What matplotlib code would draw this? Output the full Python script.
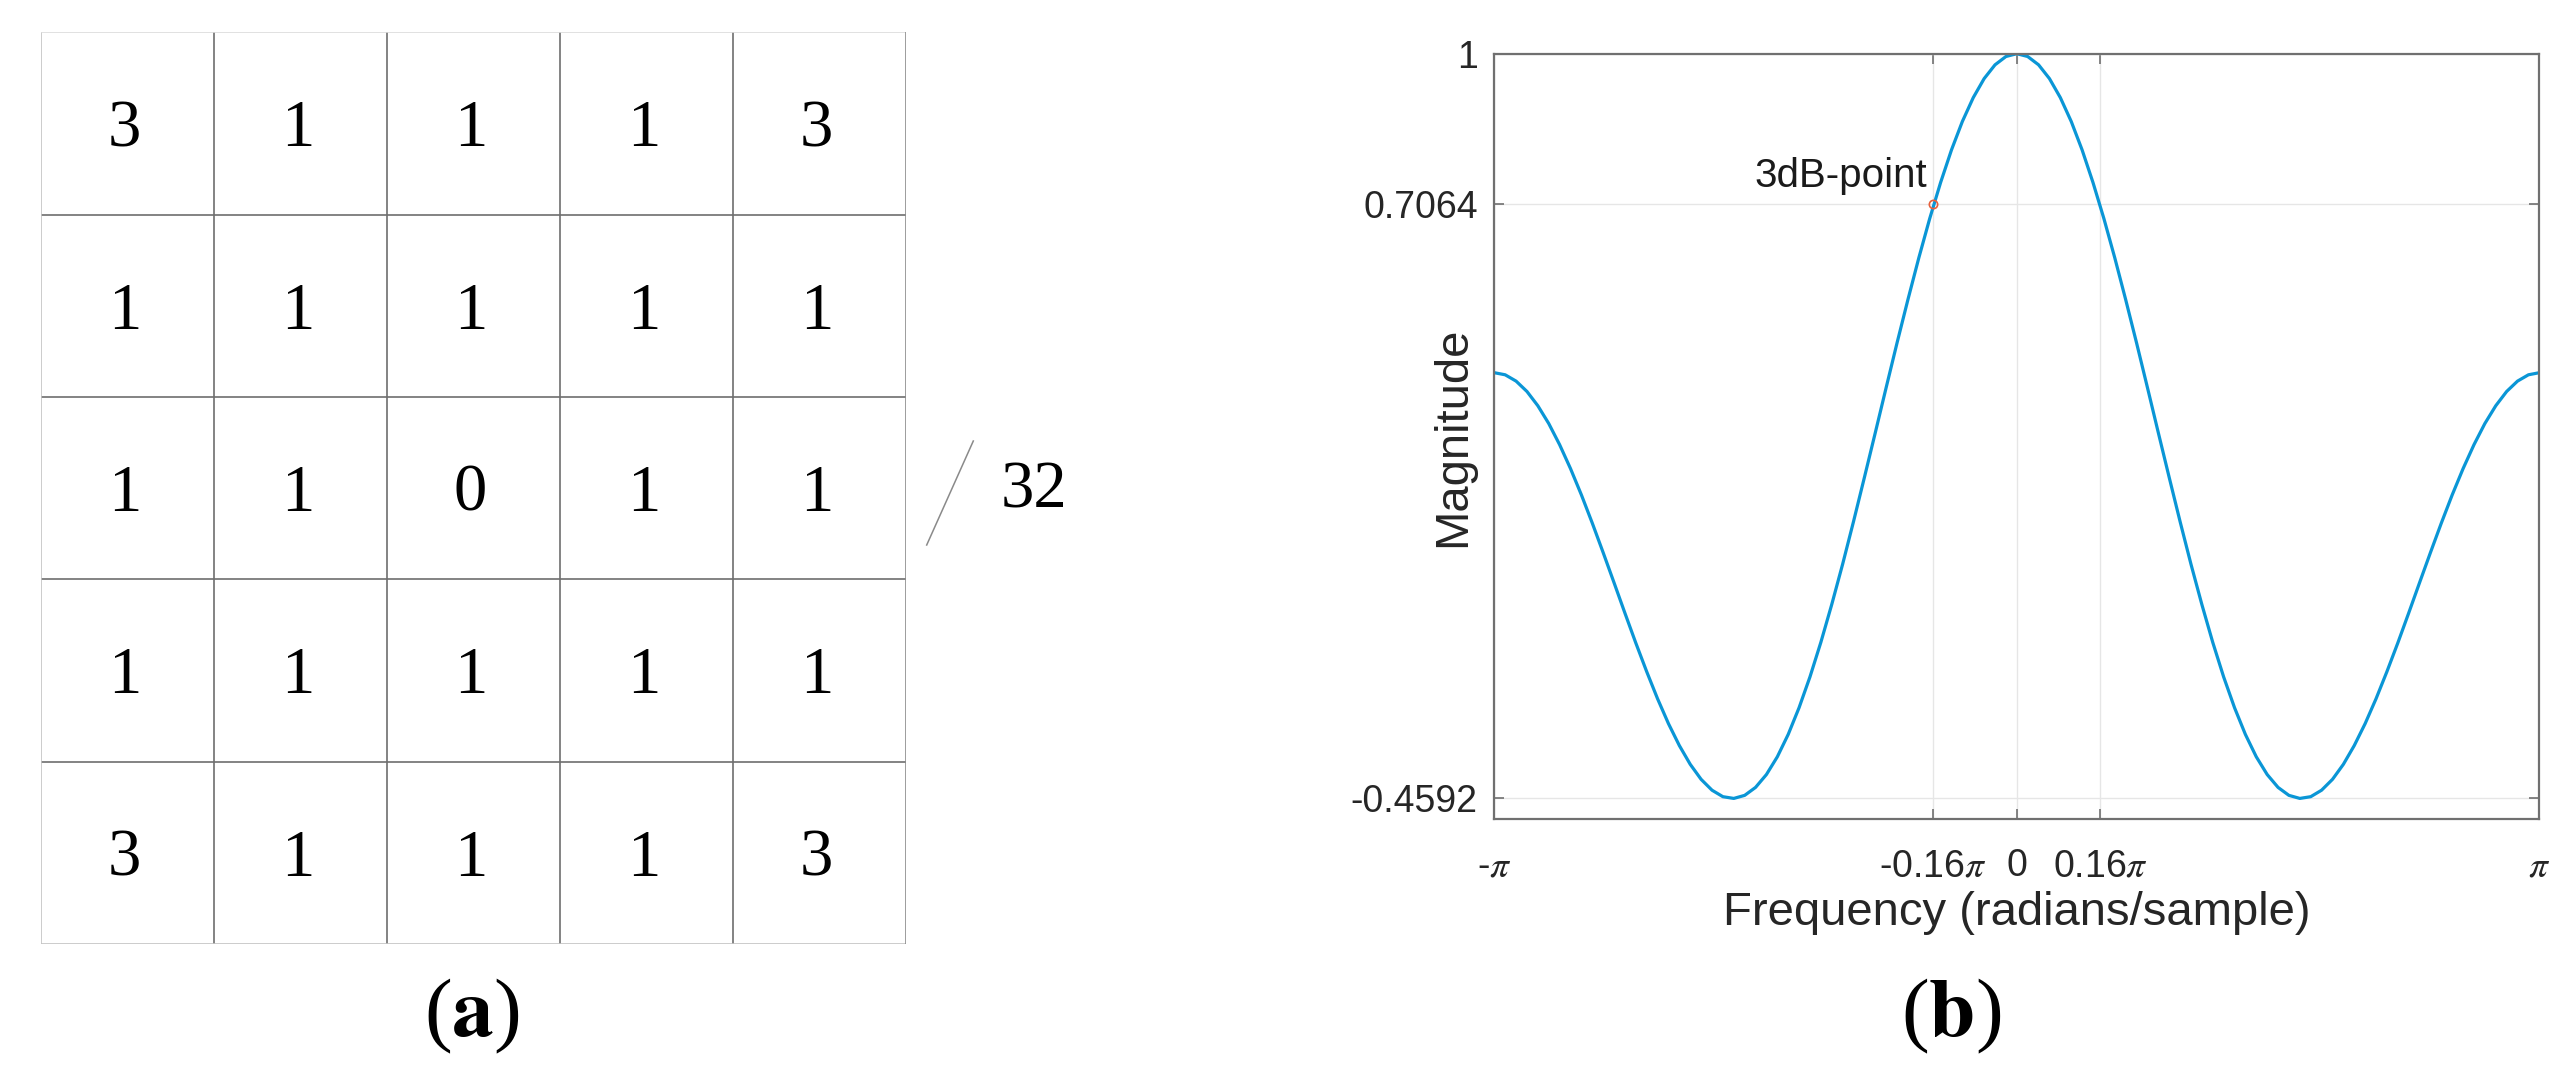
import numpy as np
import matplotlib
matplotlib.use('Agg')
import matplotlib.pyplot as plt
from matplotlib.lines import Line2D

plt.rcParams['font.family'] = ['Liberation Sans', 'DejaVu Sans']
plt.rcParams['mathtext.fontset'] = 'stix'

# (a) mascara 5x5, dividida por 32
kernel = [
    [3, 1, 1, 1, 3],
    [1, 1, 1, 1, 1],
    [1, 1, 0, 1, 1],
    [1, 1, 1, 1, 1],
    [3, 1, 1, 1, 3],
]
divisor = 32

# (b) resposta em frequencia (frequencia em unidades de pi)
freq_pi = [-1.0, -0.9792, -0.9583, -0.9375, -0.9167, -0.8958, -0.875, -0.8542,
           -0.8333, -0.8125, -0.7917, -0.7708, -0.75, -0.7292, -0.7083, -0.6875,
           -0.6667, -0.6458, -0.625, -0.6042, -0.5833, -0.5625, -0.5417, -0.5208,
           -0.5, -0.4792, -0.4583, -0.4375, -0.4167, -0.3958, -0.375, -0.3542,
           -0.3333, -0.3125, -0.2917, -0.2708, -0.25, -0.2292, -0.2083, -0.1875,
           -0.1667, -0.1458, -0.125, -0.1042, -0.0833, -0.0625, -0.0417, -0.0208,
           0.0,
           0.0208, 0.0417, 0.0625, 0.0833, 0.1042, 0.125, 0.1458, 0.1667,
           0.1875, 0.2083, 0.2292, 0.25, 0.2708, 0.2917, 0.3125, 0.3333,
           0.3542, 0.375, 0.3958, 0.4167, 0.4375, 0.4583, 0.4792, 0.5,
           0.5208, 0.5417, 0.5625, 0.5833, 0.6042, 0.625, 0.6458, 0.6667,
           0.6875, 0.7083, 0.7292, 0.75, 0.7708, 0.7917, 0.8125, 0.8333,
           0.8542, 0.875, 0.8958, 0.9167, 0.9375, 0.9583, 0.9792, 1.0]
magnitude = [0.375, 0.3709, 0.3585, 0.3382, 0.3103, 0.2754, 0.2340, 0.1872,
             0.1356, 0.0804, 0.0227, -0.0365, -0.0960, -0.1545, -0.2108, -0.2639,
             -0.3125, -0.3556, -0.3923, -0.4217, -0.4430, -0.4557, -0.4591, -0.4531,
             -0.4375, -0.4123, -0.3775, -0.3337, -0.2813, -0.2208, -0.1532, -0.0792,
             0.0, 0.0834, 0.1697, 0.2576, 0.3460, 0.4334, 0.5185, 0.6001,
             0.6769, 0.7477, 0.8115, 0.8672, 0.9140, 0.9512, 0.9782, 0.9945,
             1.0,
             0.9945, 0.9782, 0.9512, 0.9140, 0.8672, 0.8115, 0.7477, 0.6769,
             0.6001, 0.5185, 0.4334, 0.3460, 0.2576, 0.1697, 0.0834, 0.0,
             -0.0792, -0.1532, -0.2208, -0.2813, -0.3337, -0.3775, -0.4123, -0.4375,
             -0.4531, -0.4591, -0.4557, -0.4430, -0.4217, -0.3923, -0.3556, -0.3125,
             -0.2639, -0.2108, -0.1545, -0.0960, -0.0365, 0.0227, 0.0804, 0.1356,
             0.1872, 0.2340, 0.2754, 0.3103, 0.3382, 0.3585, 0.3709, 0.375]

xtick_pi = [-1.0, -0.16, 0.0, 0.16, 1.0]
xtick_labels = [r'-$\pi$', r'-0.16$\pi$', '0', r'0.16$\pi$', r'$\pi$']
ytick_vals = [-0.4592, 0.7064, 1.0]
ytick_labels = ['-0.4592', '0.7064', '1']
ponto_3db = (-0.16, 0.7064)

W, H = 2570, 1086
fig = plt.figure(figsize=(W / 100, H / 100), dpi=100)


def fx(px):
    return px / W


def fy(py):
    return 1 - py / H


# ---------- painel (a) ----------
ax_a = fig.add_axes([fx(40.7), fy(943.8), fx(865), 911.5 / H])
ax_a.set_xlim(0, 5)
ax_a.set_ylim(5, 0)
ax_a.axis('off')

for k in range(1, 5):
    ax_a.plot([k, k], [0, 5], color='#6e6e6e', lw=1.2, solid_capstyle='butt')
    ax_a.plot([0, 5], [k, k], color='#6e6e6e', lw=1.2, solid_capstyle='butt')
# bordas externas mais claras
ax_a.plot([0, 0], [0, 5], color='#c4c4c4', lw=1.2)
ax_a.plot([0, 5], [0, 0], color='#dcdcdc', lw=1.2)
ax_a.plot([0, 5], [5, 5], color='#c4c4c4', lw=1.2)
ax_a.plot([5, 5], [0, 5], color='#8c8c8c', lw=1.2)

for i, linha in enumerate(kernel):
    for j, v in enumerate(linha):
        ax_a.text(j + 0.485, i + 0.535, str(v), ha='center', va='center',
                  fontsize=48, family='Liberation Serif', color='black')

fig.add_artist(Line2D([fx(926.7), fx(973.3)], [fy(545), fy(441)],
                      color='#8a8a8a', lw=1.1))
fig.text(fx(1034), fy(491), str(divisor), ha='center', va='center',
         fontsize=48, family='Liberation Serif', color='black')

# ---------- painel (b) ----------
ax_b = fig.add_axes([fx(1494.3), fy(819.3), fx(1045), 765.6 / H])
x = np.array(freq_pi) * np.pi
ax_b.plot(x, magnitude, color='#0a96d6', lw=2.3)
ax_b.plot(ponto_3db[0] * np.pi, ponto_3db[1], 'o', ms=6, mfc='none',
          mec='#e8603c', mew=1.2)
ax_b.text(ponto_3db[0] * np.pi - 0.035, ponto_3db[1] + 0.017, '3dB-point',
          ha='right', va='bottom', fontsize=29, color='#1a1a1a')

ax_b.set_xlim(-np.pi, np.pi)
ax_b.set_ylim(-0.5, 1.0)
ax_b.set_xticks(np.array(xtick_pi) * np.pi)
ax_b.set_xticklabels(xtick_labels)
ax_b.set_yticks(ytick_vals)
ax_b.set_yticklabels(ytick_labels)
ax_b.tick_params(axis='both', direction='in', length=7, width=1.2,
                 color='#707070', labelsize=27, labelcolor='#262626',
                 top=True, right=True)
ax_b.tick_params(axis='x', pad=21)
ax_b.tick_params(axis='y', pad=12)
ax_b.grid(True, color='#e6e6e6', lw=1.0)
ax_b.set_axisbelow(True)
for s in ax_b.spines.values():
    s.set_color('#707070')
    s.set_linewidth(1.6)

ax_b.set_xlabel('Frequency (radians/sample)', fontsize=34, color='#262626')
ax_b.xaxis.set_label_coords(0.5, -0.093)
ax_b.set_ylabel('Magnitude', fontsize=34, color='#262626')
ax_b.yaxis.set_label_coords(-0.018, 0.5)

# legendas dos paineis
fig.text(fx(472), fy(1016), r'($\mathbf{a}$)', ha='center', va='center',
         fontsize=60, family='Liberation Serif')
fig.text(fx(1951), fy(1016), r'($\mathbf{b}$)', ha='center', va='center',
         fontsize=60, family='Liberation Serif')

fig.savefig('out.png', dpi=100, facecolor='white')
